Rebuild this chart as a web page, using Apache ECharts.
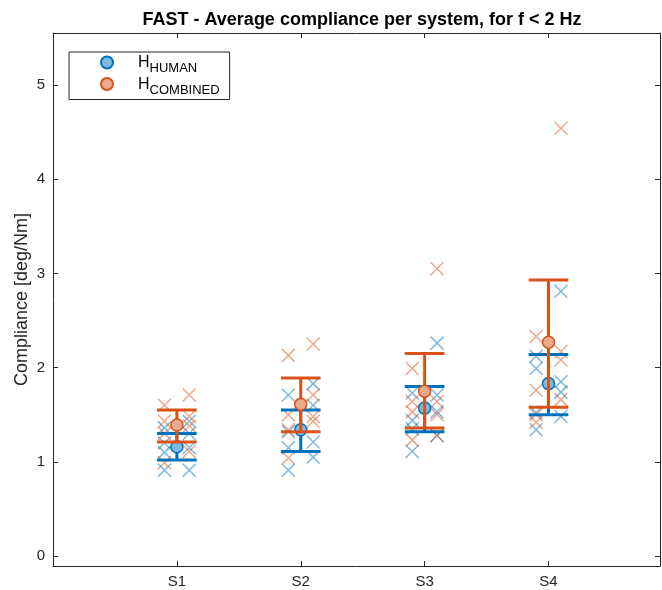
<!DOCTYPE html>
<html>
<head>
<meta charset="utf-8">
<script src="https://cdn.jsdelivr.net/npm/echarts@6/dist/echarts.min.js"></script>
<style>html,body{margin:0;padding:0;background:#fff;}#main{width:662px;height:590px;}</style>
</head>
<body>
<div id="main"></div>
<script>
// ---- data ----
const categories = ['S1', 'S2', 'S3', 'S4'];
const yTicks = [0, 1, 2, 3, 4, 5];

// individual subjects (left column, right column) per system
const humanLeft = [
  [1.36, 1.20, 1.10, 0.91],
  [1.71, 1.32, 1.15, 0.91],
  [1.73, 1.44, 1.35, 1.11],
  [2.12, 1.99, 1.52, 1.34]
];
const humanRight = [
  [1.43, 1.30, 1.15, 0.91],
  [1.83, 1.60, 1.21, 1.05],
  [2.26, 1.71, 1.53, 1.28],
  [2.81, 1.85, 1.74, 1.48]
];
const combinedLeft = [
  [1.60, 1.43, 1.30, 0.99],
  [2.13, 1.50, 1.34, 1.04],
  [1.99, 1.64, 1.53, 1.23],
  [2.33, 1.76, 1.50, 1.42]
];
const combinedRight = [
  [1.71, 1.48, 1.38, 1.11],
  [2.25, 1.71, 1.48, 1.43],
  [3.05, 1.64, 1.50, 1.28],
  [4.54, 2.17, 2.08, 1.66]
];

const humanMean = [1.16, 1.34, 1.57, 1.83];
const humanLow = [1.02, 1.11, 1.32, 1.50];
const humanHigh = [1.30, 1.55, 1.80, 2.14];
const combinedMean = [1.39, 1.61, 1.75, 2.27];
const combinedLow = [1.21, 1.32, 1.36, 1.58];
const combinedHigh = [1.55, 1.89, 2.15, 2.93];

// ---- styling constants ----
const BLUE = '#0072BD', ORANGE = '#D95319';
const LBLUE = '#80b9de', LORANGE = '#eca98c';
const AX = '#262626';
const JIT = 0.1, CAP = 0.16;

function crossData(leftArr, rightArr) {
  const out = [];
  leftArr.forEach((vals, i) => vals.forEach(v => out.push([i + 1 - JIT, v])));
  rightArr.forEach((vals, i) => vals.forEach(v => out.push([i + 1 + JIT, v])));
  return out;
}
function barData(low, high) { return low.map((l, i) => [i + 1, l, high[i]]); }
function meanData(m) { return m.map((v, i) => [i + 1, v]); }

const crossSymbol = 'path://M0,0L10,10M10,0L0,10';

function errRender(color) {
  return function (params, api) {
    const x = api.value(0), lo = api.value(1), hi = api.value(2);
    const a = api.coord([x, lo]), b = api.coord([x, hi]);
    const l1 = api.coord([x - CAP, lo]), r1 = api.coord([x + CAP, lo]);
    const l2 = api.coord([x - CAP, hi]), r2 = api.coord([x + CAP, hi]);
    const st = { stroke: color, lineWidth: 3, fill: null };
    return {
      type: 'group',
      children: [
        { type: 'line', shape: { x1: a[0], y1: a[1], x2: b[0], y2: b[1] }, style: st },
        { type: 'line', shape: { x1: l1[0], y1: l1[1], x2: r1[0], y2: r1[1] }, style: st },
        { type: 'line', shape: { x1: l2[0], y1: l2[1], x2: r2[0], y2: r2[1] }, style: st }
      ]
    };
  };
}

const chart = echarts.init(document.getElementById('main'), null, { renderer: 'canvas' });
const FONT = 'Liberation Sans, Arial, Helvetica, sans-serif';

const option = {
  animation: false,
  backgroundColor: '#fff',
  textStyle: { fontFamily: FONT },
  title: {
    text: 'FAST - Average compliance per system, for f < 2 Hz',
    left: 357, top: 6, textAlign: 'center',
    textStyle: { fontSize: 18, fontWeight: 'bold', color: '#000', fontFamily: FONT }
  },
  grid: { left: 53, right: 2, top: 33, bottom: 24, containLabel: false },
  legend: {
    orient: 'vertical', left: 69, top: 52,
    data: ['H_HUMAN', 'H_COMBINED'],
    backgroundColor: '#fff', borderColor: AX, borderWidth: 1, borderRadius: 0,
    padding: [3, 10, 3, 31],
    itemWidth: 52, itemHeight: 12, itemGap: 1.5,
    formatter: name => '{h|H}{s|' + name.split('_')[1] + '}',
    textStyle: {
      color: '#000',
      rich: {
        h: { fontSize: 16, lineHeight: 15, verticalAlign: 'top', fontFamily: FONT, color: '#000' },
        s: { fontSize: 13, lineHeight: 11, padding: [7, 0, 0, 0], verticalAlign: 'top', fontFamily: FONT, color: '#000' }
      }
    }
  },
  xAxis: [{
    type: 'value', min: 0, max: 4.9, position: 'bottom',
    axisLine: { show: true, onZero: false, lineStyle: { color: AX, width: 1 } },
    axisTick: { show: true, inside: true, length: 5, customValues: [1, 2, 3, 4], lineStyle: { color: AX } },
    axisLabel: { customValues: [1, 2, 3, 4], formatter: v => categories[Math.round(v) - 1], fontSize: 15, color: AX, margin: 8, fontFamily: FONT },
    splitLine: { show: false }
  }, {
    type: 'value', min: 0, max: 4.9, position: 'top',
    axisLine: { show: true, onZero: false, lineStyle: { color: AX, width: 1 } },
    axisTick: { show: true, inside: true, length: 5, customValues: [1, 2, 3, 4], lineStyle: { color: AX } },
    axisLabel: { show: false }, splitLine: { show: false }
  }],
  yAxis: [{
    type: 'value', min: -0.106, max: 5.552, position: 'left',
    name: 'Compliance [deg/Nm]', nameLocation: 'middle', nameGap: 22, nameMoveOverlap: false,
    nameTextStyle: { fontSize: 18, color: AX, fontFamily: FONT },
    axisLine: { show: true, onZero: false, lineStyle: { color: AX, width: 1 } },
    axisTick: { show: true, inside: true, length: 5, customValues: yTicks, lineStyle: { color: AX } },
    axisLabel: { customValues: yTicks, fontSize: 15, color: AX, margin: 8, fontFamily: FONT },
    splitLine: { show: false }
  }, {
    type: 'value', min: -0.106, max: 5.552, position: 'right',
    axisLine: { show: true, onZero: false, lineStyle: { color: AX, width: 1 } },
    axisTick: { show: true, inside: true, length: 5, customValues: yTicks, lineStyle: { color: AX } },
    axisLabel: { show: false }, splitLine: { show: false }
  }],
  series: [
    {
      name: 'human subjects', type: 'scatter', data: crossData(humanLeft, humanRight),
      symbol: crossSymbol, symbolSize: 13,
      itemStyle: { color: 'transparent', borderColor: BLUE, borderWidth: 1.5, opacity: 0.5 },
      z: 2, silent: true
    },
    {
      name: 'combined subjects', type: 'scatter', data: crossData(combinedLeft, combinedRight),
      symbol: crossSymbol, symbolSize: 13,
      itemStyle: { color: 'transparent', borderColor: ORANGE, borderWidth: 1.5, opacity: 0.5 },
      z: 2, silent: true
    },
    {
      name: 'human err', type: 'custom', data: barData(humanLow, humanHigh),
      renderItem: errRender(BLUE), z: 3, silent: true
    },
    {
      name: 'H_HUMAN', type: 'scatter', data: meanData(humanMean),
      symbol: 'circle', symbolSize: 12,
      itemStyle: { color: LBLUE, borderColor: BLUE, borderWidth: 1.5, opacity: 1 },
      z: 4
    },
    {
      name: 'combined err', type: 'custom', data: barData(combinedLow, combinedHigh),
      renderItem: errRender(ORANGE), z: 5, silent: true
    },
    {
      name: 'H_COMBINED', type: 'scatter', data: meanData(combinedMean),
      symbol: 'circle', symbolSize: 12,
      itemStyle: { color: LORANGE, borderColor: ORANGE, borderWidth: 1.5, opacity: 1 },
      z: 6
    }
  ]
};
chart.setOption(option);
</script>
</body>
</html>
